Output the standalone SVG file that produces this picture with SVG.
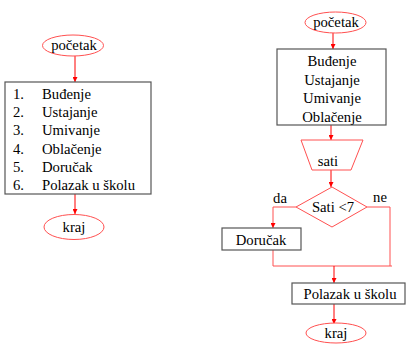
<svg xmlns="http://www.w3.org/2000/svg" width="407" height="345" viewBox="0 0 407 345">
<defs>
<marker id="ah" viewBox="0 0 10 10" refX="10" refY="5" markerWidth="5" markerHeight="5" orient="auto" markerUnits="userSpaceOnUse">
<path d="M0,0 L10,5 L0,10 z" fill="#ff0000"/>
</marker>
</defs>
<style>
text{font-family:'Liberation Serif','DejaVu Serif','Times New Roman',serif;font-size:14.7px;fill:#000}
.c{text-anchor:middle}
.term{fill:#fff;stroke:#ff5050;stroke-width:1}
.box{fill:#fff;stroke:#555;stroke-width:1.2}
.shape{fill:#fff;stroke:#ff5050;stroke-width:1}
.ln{fill:none;stroke:#ff0000;stroke-width:1}
.ln2{fill:none;stroke:#ff5050;stroke-width:1}
</style>
<g id="connectors">
<line class="ln" x1="75" y1="56" x2="75" y2="82" marker-end="url(#ah)"/>
<line class="ln" x1="75" y1="194" x2="75" y2="214" marker-end="url(#ah)"/>
<line class="ln" x1="333" y1="33" x2="333" y2="49" marker-end="url(#ah)"/>
<line class="ln" x1="331" y1="125" x2="331" y2="140" marker-end="url(#ah)"/>
<line class="ln" x1="331" y1="170" x2="331" y2="187" marker-end="url(#ah)"/>
<polyline class="ln2" points="296,207 273,207 273,228" marker-end="url(#ah)"/>
<polyline class="ln2" points="367,207 390,207 390,266"/>
<polyline class="ln2" points="273,250 273,266 392,266"/>
<line class="ln" x1="334" y1="266" x2="334" y2="283" marker-end="url(#ah)"/>
<line class="ln" x1="334" y1="304" x2="334" y2="324" marker-end="url(#ah)"/>
</g>
<g id="start-left">
<ellipse class="term" cx="73" cy="45.5" rx="30.5" ry="10.5"/>
<text class="c" x="74" y="50">početak</text>
</g>
<g id="list-left">
<rect class="box" x="5" y="82" width="146" height="112"/>
<text x="13" y="99">1.</text><text x="42" y="99">Buđenje</text>
<text x="13" y="117">2.</text><text x="42" y="117">Ustajanje</text>
<text x="13" y="135">3.</text><text x="42" y="135">Umivanje</text>
<text x="13" y="154">4.</text><text x="42" y="154">Oblačenje</text>
<text x="13" y="172">5.</text><text x="42" y="172">Doručak</text>
<text x="13" y="190">6.</text><text x="42" y="190">Polazak u školu</text>
</g>
<g id="end-left">
<ellipse class="term" cx="74" cy="227" rx="30" ry="12.5"/>
<text class="c" x="74" y="231.5">kraj</text>
</g>
<g id="start-right">
<ellipse class="term" cx="335.5" cy="22.5" rx="30.5" ry="10.5"/>
<text class="c" x="336" y="27">početak</text>
</g>
<g id="steps-right">
<rect class="box" x="277" y="49" width="109" height="76"/>
<text class="c" x="332" y="66">Buđenje</text>
<text class="c" x="332" y="84.5">Ustajanje</text>
<text class="c" x="332" y="103">Umivanje</text>
<text class="c" x="332" y="121.5">Oblačenje</text>
</g>
<g id="input-sati">
<polygon class="shape" points="301,140 363,140 351,170 312,170"/>
<text class="c" x="328" y="166">sati</text>
</g>
<g id="decision">
<polygon class="shape" points="332,187 367,207 332,227 296,207"/>
<text class="c" x="333" y="211.5">Sati &lt;7</text>
<text class="c" x="280" y="203">da</text>
<text class="c" x="380" y="202">ne</text>
</g>
<g id="dorucak">
<rect class="box" x="222" y="228" width="79" height="22"/>
<text class="c" x="261" y="244.5">Doručak</text>
</g>
<g id="polazak">
<rect class="box" x="292" y="283" width="113" height="21"/>
<text class="c" x="350" y="299">Polazak u školu</text>
</g>
<g id="end-right">
<ellipse class="term" cx="336" cy="333" rx="30" ry="10"/>
<text class="c" x="336" y="337.5">kraj</text>
</g>
</svg>
